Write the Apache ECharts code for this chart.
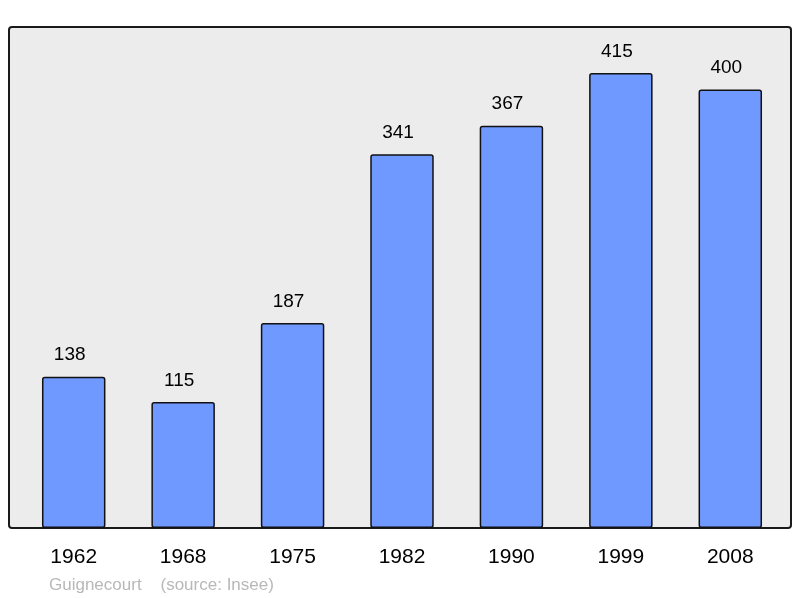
<!DOCTYPE html>
<html>
<head>
<meta charset="utf-8">
<script src="https://cdn.jsdelivr.net/npm/echarts@6/dist/echarts.min.js"></script>
<style>
  html, body { margin: 0; padding: 0; background: #ffffff; }
  #main { width: 800px; height: 598px; }
</style>
</head>
<body>
<div id="main"></div>
<script>
// population data, Guignecourt (source: Insee)
var years = ['1962', '1968', '1975', '1982', '1990', '1999', '2008'];
var population = [138, 115, 187, 341, 367, 415, 400];

var chart = echarts.init(document.getElementById('main'));
chart.setOption({
  animation: false,
  backgroundColor: '#ffffff',
  graphic: [
    {
      type: 'rect',
      z: -10,
      shape: { x: 9, y: 27, width: 782, height: 501, r: 3 },
      style: { fill: '#ececec', stroke: '#1a1a1a', lineWidth: 2 }
    },
    {
      type: 'text',
      left: 49,
      top: 577,
      style: {
        text: 'Guignecourt    (source: Insee)',
        fill: '#b8b8b8',
        font: '17px "Liberation Sans", Arial, sans-serif'
      }
    }
  ],
  grid: { left: 19, right: 15, top: 27, bottom: 70 },
  xAxis: {
    type: 'category',
    data: years,
    axisLine: { show: false },
    axisTick: { show: false },
    axisLabel: {
      margin: 19,
      color: '#000',
      fontSize: 21,
      fontFamily: 'Liberation Sans'
    }
  },
  yAxis: {
    type: 'value',
    min: 0,
    max: 457,
    show: false,
    splitLine: { show: false }
  },
  series: [{
    type: 'bar',
    data: population,
    barWidth: '58%',
    itemStyle: {
      color: '#7099ff',
      borderColor: '#111',
      borderWidth: 1.5,
      borderRadius: 2
    },
    label: {
      show: true,
      position: 'top',
      distance: 12,
      offset: [-4, 0],
      color: '#000',
      fontSize: 19,
      fontFamily: 'Liberation Sans'
    }
  }]
});
</script>
</body>
</html>
